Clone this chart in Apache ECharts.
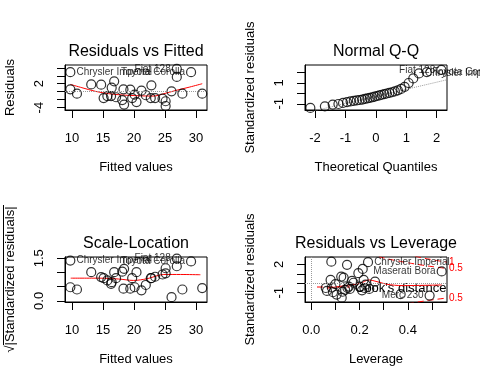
<!DOCTYPE html>
<html><head><meta charset="utf-8">
<script src="https://cdn.jsdelivr.net/npm/echarts@6/dist/echarts.min.js"></script>
<style>html,body{margin:0;padding:0;background:#fff}#c{width:480px;height:384px}</style>
</head><body><div id="c"></div>
<script>
// ---- Residuals vs Fitted ----
const fitted = [9.73, 9.73, 10.8, 13.1, 14.7, 16.8, 16.4, 15.1, 15.7, 16.3, 17.1, 18.1, 18.4, 18.3, 19.4, 19.7, 20.1, 20.4, 21.2, 21.9, 22.8, 22.7, 23.4, 24.6, 25.1, 25.1, 26.05, 26.9, 26.9, 27.8, 29.2, 31.0];
const residuals = [4.9, 0.58, -0.5, 1.83, 1.75, 2.6, 1.0, -1.6, -1.1, -1.1, -1.4, -2.1, -3.25, 0.58, 0.5, -1.6, -0.75, -2.6, 0.25, -0.9, 1.6, -1.6, -1.6, -1.75, -2.4, -3.6, 0.1, 3.7, 5.75, -0.5, 4.9, -0.5];
const rvfSmoothX = [9.73, 11.6, 13.8, 15.9, 18.1, 20.3, 21.9, 23.2, 24.6, 26.8, 29.0, 31.0];
const rvfSmoothY = [1.83, 1.0, 0.08, -0.5, -0.83, -1.0, -1.08, -1.1, -0.6, 0.33, 1.17, 2.0];
const rvfLabelIdx = [0, 28, 30];
const rvfLabelText = ['Chrysler Imperial', 'Fiat 128', 'Toyota Corolla'];
const rvfLabelPos = ['right', 'left', 'left'];

// ---- Normal Q-Q ----
const qqTheo = [-2.154, -1.676, -1.418, -1.230, -1.078, -0.947, -0.831, -0.725, -0.626, -0.534, -0.445, -0.360, -0.278, -0.197, -0.118, -0.039, 0.039, 0.118, 0.197, 0.278, 0.360, 0.445, 0.534, 0.626, 0.725, 0.831, 0.947, 1.078, 1.230, 1.418, 1.676, 2.154];
const qqStd = [-1.40, -1.24, -1.08, -1.02, -0.92, -0.84, -0.78, -0.72, -0.68, -0.64, -0.60, -0.54, -0.49, -0.44, -0.38, -0.32, -0.26, -0.20, -0.14, -0.08, -0.02, 0.03, 0.10, 0.18, 0.28, 0.42, 0.62, 0.98, 1.42, 1.90, 2.02, 2.24];
const qqLineX = [-2.33, 2.34];
const qqLineY = [-1.88, 1.29];
const qqLabelIdx = [31, 30, 29];
const qqLabelText = ['Fiat 128', 'Toyota Corolla', 'Chrysler Imperial'];
const qqLabelPos = ['left', 'right', 'right'];

// ---- Scale-Location ----
const scaleLoc = [1.42, 0.48, 0.40, 1.01, 0.84, 1.01, 0.66, 0.80, 0.72, 0.60, 0.80, 1.03, 1.13, 0.43, 0.43, 0.80, 0.48, 1.01, 0.37, 0.56, 0.80, 0.80, 0.85, 0.93, 0.97, 1.15, 0.13, 1.22, 1.49, 0.40, 1.39, 0.45];
const slSmoothX = [9.79, 14.5, 17.5, 19.9, 22.1, 24.8, 27.5, 30.7];
const slSmoothY = [0.80, 0.80, 0.77, 0.72, 0.78, 0.93, 0.93, 0.92];

// ---- Residuals vs Leverage ----
const leverage = [0.083, 0.148, 0.235, 0.213, 0.195, 0.54, 0.08, 0.124, 0.134, 0.169, 0.175, 0.217, 0.264, 0.065, 0.085, 0.09, 0.105, 0.126, 0.13, 0.14, 0.15, 0.155, 0.20, 0.22, 0.24, 0.21, 0.225, 0.49, 0.37, 0.10, 0.06, 0.16];
const stdResLev = [2.28, 1.94, 2.22, 1.51, 1.06, 1.25, 0.35, 0.70, 0.59, 0.24, 0.05, 0.35, 0.17, -0.81, -0.45, -0.95, -1.2, -1.52, -0.9, -0.7, -0.5, -0.35, -0.35, -0.5, -0.6, -0.75, -0.15, -1.3, -1.15, -0.1, -0.5, -0.6];
const rvlSmoothX = [0.065, 0.141, 0.203, 0.238, 0.272, 0.314, 0.376, 0.54];
const rvlSmoothY = [-0.53, -0.25, 0.0, 0.35, 0.17, -0.11, -0.25, -0.18];
const rvlLabelIdx = [2, 5, 27];
const rvlLabelText = ['Chrysler Imperial', 'Maserati Bora', 'Merc 230'];
const rvlLabelPos = ['right', 'left', 'left'];
const cookUpper1X = [0.43, 0.46, 0.50, 0.53, 0.562];
const cookUpper1Y = [2.86, 2.68, 2.49, 2.35, 2.22];
const cookUpper05X = [0.28, 0.32, 0.36, 0.40, 0.45, 0.50, 0.562];
const cookUpper05Y = [2.80, 2.55, 2.35, 2.16, 1.95, 1.76, 1.56];
const cookLower05X = [0.40, 0.45, 0.50, 0.562];
const cookLower05Y = [-2.16, -1.95, -1.76, -1.56];

// ---- axis ticks ----
const p1XTicks = [10, 15, 20, 25, 30], p1YTicks = [-4, -2, 0, 2, 4, 6], p1YLabels = [-4, 2];
const p2XTicks = [-2, -1, 0, 1, 2], p2YTicks = [-1, 0, 1, 2], p2YLabels = [-1, 1];
const p3YTicks = [0, 0.5, 1.0, 1.5], p3YLabels = [0, 1.5];
const p4XTicks = [0, 0.1, 0.2, 0.3, 0.4, 0.5], p4XLabels = [0, 0.2, 0.4];
const p4YTicks = [-1, 0, 1, 2], p4YLabels = [-1, 2];

const FONT = '"Liberation Sans", Arial, Helvetica, sans-serif';
const zip = (a, b) => a.map((v, i) => [v, b[i]]);

function pts(xs, ys, idx, txt, pos) {
  return xs.map((x, i) => {
    const k = idx ? idx.indexOf(i) : -1;
    const d = { value: [x, ys[i]] };
    if (k >= 0) d.label = { show: true, formatter: txt[k], position: pos[k], distance: 1, fontSize: 10, color: '#000', fontFamily: FONT };
    return d;
  });
}
function xAx(gi, min, max, ticks, labels, fmt) {
  return { type: 'value', gridIndex: gi, min: min, max: max,
    splitLine: { show: false }, axisLine: { show: true, onZero: false, lineStyle: { color: '#000' } },
    axisTick: { show: true, length: 8, lineStyle: { color: '#000' }, customValues: ticks },
    axisLabel: { show: true, customValues: labels, margin: 22, fontSize: 13, color: '#000', fontFamily: FONT, formatter: fmt } };
}
function yAx(gi, min, max, ticks, labels, fmt) {
  return { type: 'value', gridIndex: gi, min: min, max: max,
    splitLine: { show: false }, axisLine: { show: true, onZero: false, lineStyle: { color: '#000' } },
    axisTick: { show: true, length: 8, lineStyle: { color: '#000' }, customValues: ticks },
    axisLabel: { show: true, customValues: labels, rotate: 90, margin: 19, fontSize: 13, color: '#000', fontFamily: FONT, formatter: fmt } };
}
const intFmt = v => String(Math.round(v));
const f1 = v => Number(v).toFixed(1);
const scatterStyle = { color: 'rgba(0,0,0,0)', borderColor: '#000', borderWidth: 1.2 };
function scat(gi, data, extra) {
  return Object.assign({ type: 'scatter', xAxisIndex: gi, yAxisIndex: gi, data: data, symbol: 'circle', symbolSize: 9, itemStyle: scatterStyle, silent: true, z: 3 }, extra || {});
}
function line(gi, data, color, type, extra) {
  return Object.assign({ type: 'line', xAxisIndex: gi, yAxisIndex: gi, data: data, showSymbol: false, symbol: 'none', silent: true, clip: true,
    lineStyle: { color: color, width: 1, type: type } }, extra || {});
}
const dotted = (axis) => ({ silent: true, symbol: 'none', label: { show: false }, lineStyle: { type: 'dotted', color: '#9a9a9a', width: 1 }, data: axis });
const cookLbl = (t) => ({ endLabel: { show: true, formatter: t, color: '#ff0000', fontSize: 10, fontFamily: FONT, distance: 2 } });

const chart = echarts.init(document.getElementById('c'), null, { renderer: 'canvas' });
const titleStyle = (x, y, t) => ({ type: 'text', x: x, y: y, style: { text: t, font: '16px ' + FONT, fill: '#000', textAlign: 'center', textVerticalAlign: 'middle' } });
const nameStyle = (x, y, t, rot) => ({ type: 'text', x: x, y: y, rotation: rot ? Math.PI / 2 : 0, style: { text: t, font: '13px ' + FONT, fill: '#000', textAlign: 'center', textVerticalAlign: 'middle' } });

chart.setOption({
  animation: false,
  grid: [
    { left: 65, top: 65, width: 142, height: 45, show: true, borderColor: '#000', borderWidth: 1, backgroundColor: 'transparent' },
    { left: 305, top: 65, width: 142, height: 45, show: true, borderColor: '#000', borderWidth: 1, backgroundColor: 'transparent' },
    { left: 65, top: 257, width: 142, height: 45, show: true, borderColor: '#000', borderWidth: 1, backgroundColor: 'transparent' },
    { left: 305, top: 257, width: 142, height: 45, show: true, borderColor: '#000', borderWidth: 1, backgroundColor: 'transparent' }
  ],
  xAxis: [
    xAx(0, 8.87, 31.77, p1XTicks, p1XTicks, intFmt),
    xAx(1, -2.33, 2.34, p2XTicks, p2XTicks, intFmt),
    xAx(2, 8.87, 31.77, p1XTicks, p1XTicks, intFmt),
    xAx(3, -0.026, 0.562, p4XTicks, p4XLabels, f1)
  ],
  yAxis: [
    yAx(0, -4.6, 6.7, p1YTicks, p1YLabels, intFmt),
    yAx(1, -1.595, 2.70, p2YTicks, p2YLabels, intFmt),
    yAx(2, -0.04, 1.546, p3YTicks, p3YLabels, f1),
    yAx(3, -1.98, 2.77, p4YTicks, p4YLabels, intFmt)
  ],
  series: [
    scat(0, pts(fitted, residuals, rvfLabelIdx, rvfLabelText, rvfLabelPos), { markLine: dotted([{ yAxis: 0 }]) }),
    line(0, zip(rvfSmoothX, rvfSmoothY), '#ff0000', 'solid', { smooth: 0.3 }),
    line(1, zip(qqLineX, qqLineY), '#9a9a9a', 'dotted'),
    scat(1, pts(qqTheo, qqStd, qqLabelIdx, qqLabelText, qqLabelPos)),
    scat(2, pts(fitted, scaleLoc, rvfLabelIdx, rvfLabelText, rvfLabelPos)),
    line(2, zip(slSmoothX, slSmoothY), '#ff0000', 'solid', { smooth: 0.3 }),
    scat(3, pts(leverage, stdResLev, rvlLabelIdx, rvlLabelText, rvlLabelPos), { markLine: dotted([{ yAxis: 0 }, { xAxis: 0 }]) }),
    line(3, zip(rvlSmoothX, rvlSmoothY), '#ff0000', 'solid', { smooth: 0.3 }),
    line(3, zip(cookUpper1X, cookUpper1Y), '#ff0000', [6, 4], Object.assign({ smooth: true }, cookLbl('1'))),
    line(3, zip(cookUpper05X, cookUpper05Y), '#ff0000', [6, 4], Object.assign({ smooth: true }, cookLbl('0.5'))),
    line(3, zip(cookLower05X, cookLower05Y), '#ff0000', [6, 4], Object.assign({ smooth: true }, cookLbl('0.5')))
  ],
  graphic: [
    titleStyle(136, 52, 'Residuals vs Fitted'),
    titleStyle(376, 52, 'Normal Q-Q'),
    titleStyle(136, 244, 'Scale-Location'),
    titleStyle(376, 244, 'Residuals vs Leverage'),
    nameStyle(136, 167, 'Fitted values'),
    nameStyle(376, 167, 'Theoretical Quantiles'),
    nameStyle(136, 359, 'Fitted values'),
    nameStyle(376, 359, 'Leverage'),
    nameStyle(10, 87.5, 'Residuals', true),
    nameStyle(250, 87.5, 'Standardized residuals', true),
    nameStyle(10, 279.5, '\u221A|Standardized residuals|', true),
    { type: 'line', shape: { x1: 3.5, y1: 205, x2: 3.5, y2: 345 }, style: { stroke: '#000', lineWidth: 1 } },
    nameStyle(250, 279.5, 'Standardized residuals', true),
    { type: 'line', shape: { x1: 317, y1: 287, x2: 350, y2: 287 }, style: { stroke: '#ff0000', lineWidth: 1, lineDash: [6, 4] } },
    { type: 'text', x: 355, y: 288, style: { text: "Cook's distance", font: '13px ' + FONT, fill: '#000', textAlign: 'left', textVerticalAlign: 'middle' } }
  ]
});
</script></body></html>
